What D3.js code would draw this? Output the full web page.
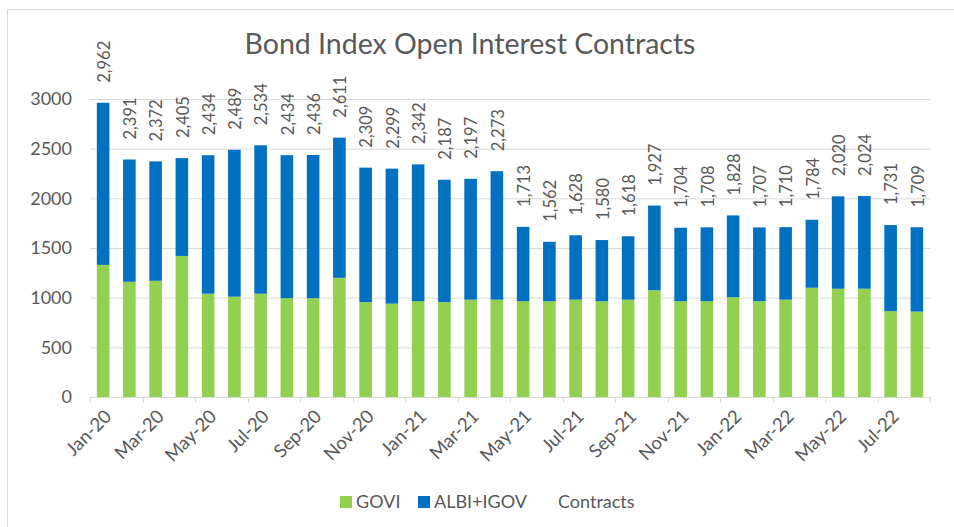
<!DOCTYPE html>
<html>
<head>
<meta charset="utf-8">
<script src="https://cdn.jsdelivr.net/npm/d3@7"></script>
<style>
  html, body { margin: 0; padding: 0; background: #fff; }
  svg { display: block; font-family: Lato, "Open Sans", sans-serif; }
</style>
</head>
<body>
<svg id="chart" width="954" height="527"></svg>
<script>
// Monthly open interest in bond index futures
const months = ["Jan-20","Feb-20","Mar-20","Apr-20","May-20","Jun-20","Jul-20","Aug-20","Sep-20","Oct-20","Nov-20","Dec-20",
                "Jan-21","Feb-21","Mar-21","Apr-21","May-21","Jun-21","Jul-21","Aug-21","Sep-21","Oct-21","Nov-21","Dec-21",
                "Jan-22","Feb-22","Mar-22","Apr-22","May-22","Jun-22","Jul-22","Aug-22"];
const govi = [1330,1160,1170,1420,1040,1010,1040,995,995,1200,955,940,
              965,955,980,980,965,965,980,965,980,1075,965,965,
              1005,965,980,1100,1090,1090,865,860];
const albiIgov = [1632,1231,1202,985,1394,1479,1494,1439,1441,1411,1354,1359,
                  1377,1232,1217,1293,748,597,648,615,638,852,739,743,
                  823,742,730,684,930,934,866,849];
const contracts = [2962,2391,2372,2405,2434,2489,2534,2434,2436,2611,2309,2299,
                   2342,2187,2197,2273,1713,1562,1628,1580,1618,1927,1704,1708,
                   1828,1707,1710,1784,2020,2024,1731,1709];
const yTicks = [0,500,1000,1500,2000,2500,3000];
const seriesNames = ["GOVI","ALBI+IGOV","Contracts"];
const colors = { "GOVI": "#92D050", "ALBI+IGOV": "#0070C0" };

const svg = d3.select("#chart");
const textColor = "#595959";
const gridColor = "#d9d9d9";

// outer chart border
svg.append("rect")
  .attr("x", 7.5).attr("y", 9.5)
  .attr("width", 1000).attr("height", 600)
  .attr("fill", "none").attr("stroke", gridColor).attr("stroke-width", 1);

const plot = { left: 90, right: 930, top: 99, bottom: 397 };

const x = d3.scaleBand()
  .domain(months)
  .range([plot.left, plot.right])
  .paddingInner(0.52)
  .paddingOuter(0.26);

const y = d3.scaleLinear()
  .domain([0, 3000])
  .range([plot.bottom, plot.top]);

// title
svg.append("text")
  .attr("x", 470).attr("y", 54)
  .attr("text-anchor", "middle")
  .attr("fill", textColor)
  .attr("font-size", 28.5)
  .text("Bond Index Open Interest Contracts");

// horizontal gridlines + y labels
const yAxis = svg.append("g")
  .attr("transform", `translate(${plot.left},0)`)
  .call(d3.axisLeft(y).tickValues(yTicks).tickSize(-(plot.right - plot.left)).tickPadding(18).tickFormat(d3.format("d")));
yAxis.select(".domain").remove();
yAxis.selectAll(".tick line").attr("stroke", gridColor).filter(d => d === 0).remove();
yAxis.selectAll(".tick text")
  .attr("fill", textColor).attr("font-size", 18).attr("font-family", "Lato, sans-serif");

// stacked bars
const table = months.map((m, i) => ({ month: m, "GOVI": govi[i], "ALBI+IGOV": albiIgov[i] }));
const stacked = d3.stack().keys(["GOVI", "ALBI+IGOV"])(table);

svg.append("g").selectAll("g")
  .data(stacked)
  .join("g")
  .attr("fill", d => colors[d.key])
  .selectAll("rect")
  .data(d => d)
  .join("rect")
  .attr("x", d => x(d.data.month))
  .attr("width", x.bandwidth())
  .attr("y", d => y(d[1]))
  .attr("height", d => y(d[0]) - y(d[1]));

// x axis: line, ticks every two months, rotated labels
const tickIdx = d3.range(0, months.length + 1, 2);
const xg = svg.append("g");
xg.append("line")
  .attr("x1", plot.left).attr("x2", plot.right)
  .attr("y1", plot.bottom + 0.5).attr("y2", plot.bottom + 0.5)
  .attr("stroke", gridColor);
xg.selectAll(".xtick")
  .data(tickIdx)
  .join("line")
  .attr("class", "xtick")
  .attr("x1", i => Math.round(plot.left + i * x.step()) + 0.5)
  .attr("x2", i => Math.round(plot.left + i * x.step()) + 0.5)
  .attr("y1", plot.bottom).attr("y2", plot.bottom + 6)
  .attr("stroke", gridColor);

const labelMonths = months.filter((m, i) => i % 2 === 0);
xg.selectAll(".xlab")
  .data(labelMonths)
  .join("text")
  .attr("class", "xlab")
  .attr("text-anchor", "end")
  .attr("fill", textColor)
  .attr("font-size", 18.5)
  .attr("transform", d => `translate(${x(d) + x.bandwidth() / 2 + 5},${plot.bottom + 16}) rotate(-45)`)
  .attr("dy", "0.35em")
  .text(d => d);

// total-contract value labels
const fmt = d3.format(",");
svg.append("g").selectAll("text")
  .data(months)
  .join("text")
  .attr("text-anchor", "start")
  .attr("fill", textColor)
  .attr("font-size", 16.5)
  .attr("transform", (m, i) => `translate(${x(m) + x.bandwidth() / 2 + 1},${y(contracts[i]) - 20}) rotate(-90)`)
  .attr("dy", "0.35em")
  .text((m, i) => fmt(contracts[i]));

// legend
const legend = svg.append("g").attr("transform", "translate(340,502)");
const legendItems = [
  { name: seriesNames[0], x: 0, swatch: true },
  { name: seriesNames[1], x: 78, swatch: true },
  { name: seriesNames[2], x: 218, swatch: false }
];
const li = legend.selectAll("g").data(legendItems).join("g")
  .attr("transform", d => `translate(${d.x},0)`);
li.filter(d => d.swatch).append("rect")
  .attr("x", 0).attr("y", -6).attr("width", 12).attr("height", 12)
  .attr("fill", d => colors[d.name]);
li.append("text")
  .attr("x", d => d.swatch ? 16 : 0)
  .attr("y", 0).attr("dy", "0.35em")
  .attr("fill", textColor)
  .attr("font-size", 18)
  .text(d => d.name);
</script>
</body>
</html>
